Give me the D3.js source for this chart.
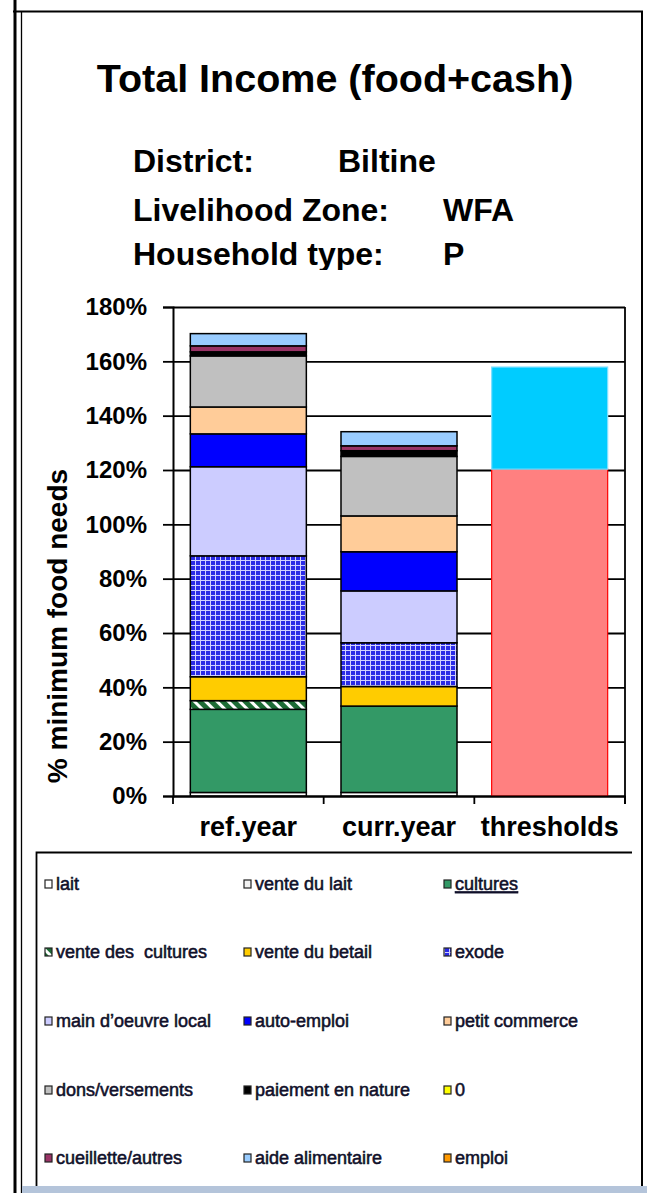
<!DOCTYPE html>
<html>
<head>
<meta charset="utf-8">
<script src="https://cdn.jsdelivr.net/npm/d3@7"></script>
<style>
body { margin: 0; background: #fff; }
svg { display: block; }
text { font-family: "Liberation Sans", Arial, sans-serif; }
</style>
</head>
<body>
<svg width="647" height="1193"></svg>
<script>
// categories on the x axis
var categories = ["ref.year", "curr.year", "thresholds"];

// income sources, in stacking order (bottom first) = legend order
var sources = ["lait", "vente du lait", "cultures", "vente des  cultures", "vente du betail",
    "exode", "main d\u2019oeuvre local", "auto-emploi", "petit commerce", "dons/versements",
    "paiement en nature", "0", "cueillette/autres", "aide alimentaire", "emploi"];

// % of minimum food needs
var refYear  = [1.3, 0, 30.6, 3.2, 8.8, 44.5, 32.8, 12.1, 9.9, 18.8, 1.5, 0, 2.2, 4.5, 0];
var currYear = [1.3, 0, 31.8, 0, 7.2, 16.1, 19.1, 14.4, 13.2, 21.9, 2.1, 0, 1.8, 5.2, 0];

// thresholds bar
var thresholdNames = ["survival", "livelihoods protection"];
var thresholdValues = [120.3, 37.6];

var yTicks = [0, 20, 40, 60, 80, 100, 120, 140, 160, 180];

var header = [["District:", "Biltine"], ["Livelihood Zone:", "WFA"], ["Household type:", "P"]];

var fills = ["#ffffff", "#f2f2f2", "#339966", "url(#stripes)", "#ffcc00",
    "url(#grid)", "#ccccff", "#0000ff", "#ffcc99", "#c0c0c0",
    "#000000", "#ffff00", "#993366", "#99ccff", "#ff9900"];
var thresholdFills = ["#ff8080", "#00ccff"];
var thresholdStrokes = ["#ff0000", "#7fe0ff"];

var svg = d3.select("svg");

var defs = svg.append("defs");
var stripes = defs.append("pattern").attr("id", "stripes")
    .attr("patternUnits", "userSpaceOnUse").attr("width", 8).attr("height", 8)
    .attr("patternTransform", "rotate(-45)");
stripes.append("rect").attr("width", 8).attr("height", 8).attr("fill", "#1d6b35");
stripes.append("rect").attr("width", 3).attr("height", 8).attr("fill", "#ffffff");

var grid = defs.append("pattern").attr("id", "grid")
    .attr("patternUnits", "userSpaceOnUse").attr("width", 5).attr("height", 5);
grid.append("rect").attr("width", 5).attr("height", 5).attr("fill", "#2a2ae6");
grid.append("rect").attr("width", 5).attr("height", 1).attr("fill", "#d0d0ff");
grid.append("rect").attr("width", 1).attr("height", 5).attr("fill", "#d0d0ff");

// sheet frame
svg.append("line").attr("x1", 15).attr("x2", 15).attr("y1", 0).attr("y2", 1193)
    .attr("stroke", "#000").attr("stroke-width", 3);
svg.append("line").attr("x1", 21.5).attr("x2", 21.5).attr("y1", 11).attr("y2", 1193)
    .attr("stroke", "#000").attr("stroke-width", 1.3);
svg.append("line").attr("x1", 13).attr("x2", 643).attr("y1", 11.5).attr("y2", 11.5)
    .attr("stroke", "#000").attr("stroke-width", 2);
svg.append("line").attr("x1", 642).attr("x2", 642).attr("y1", 11).attr("y2", 1193)
    .attr("stroke", "#000").attr("stroke-width", 2);

// title + header lines
svg.append("text")
    .attr("x", 335).attr("y", 92)
    .attr("text-anchor", "middle")
    .style("font-size", "39.5px").style("font-weight", "bold")
    .text("Total Income (food+cash)");

var hy = [172, 221, 265], hx2 = [338, 443, 443];
var hg = svg.append("g");
header.forEach(function (h, i) {
    hg.append("text").attr("x", 133).attr("y", hy[i])
        .style("font-size", "32px").style("font-weight", "bold").text(h[0]);
    hg.append("text").attr("x", hx2[i]).attr("y", hy[i])
        .style("font-size", "32px").style("font-weight", "bold").text(h[1]);
});

// plot
var x = d3.scaleBand().domain(categories).range([173, 625]).paddingInner(0.23).paddingOuter(0.115);
var y = d3.scaleLinear().domain([0, 180]).range([796, 307]);

// white plot background hides the bottom of the header text
svg.append("rect").attr("x", 173).attr("y", 270).attr("width", 452).attr("height", 37).attr("fill", "#fff");

svg.append("g")
    .attr("transform", "translate(173,0)")
    .call(d3.axisLeft(y).tickValues(yTicks).tickSize(-452).tickFormat(""))
    .call(function (g) { g.select(".domain").remove(); })
    .selectAll("line").attr("stroke", "#000").attr("stroke-width", 1.8);

var rows = [refYear, currYear].map(function (vals, i) {
    var r = { cat: categories[i] };
    sources.forEach(function (s, j) { r[s] = vals[j]; });
    return r;
});
var stacked = d3.stack().keys(sources)(rows);

svg.append("g").selectAll("g")
    .data(stacked).enter().append("g")
    .attr("fill", function (d, i) { return fills[i]; })
    .selectAll("rect")
    .data(function (d) { return d.filter(function (p) { return p[1] - p[0] > 0; }); })
    .enter().append("rect")
    .attr("x", function (d) { return x(d.data.cat); })
    .attr("width", x.bandwidth())
    .attr("y", function (d) { return y(d[1]); })
    .attr("height", function (d) { return y(d[0]) - y(d[1]); })
    .attr("stroke", "#000").attr("stroke-width", 1.5);

var tRow = { cat: categories[2] };
thresholdNames.forEach(function (n, j) { tRow[n] = thresholdValues[j]; });
var tStack = d3.stack().keys(thresholdNames)([tRow]);
svg.append("g").selectAll("rect")
    .data(tStack).enter().append("rect")
    .attr("x", function (d) { return x(d[0].data.cat); })
    .attr("width", x.bandwidth())
    .attr("y", function (d) { return y(d[0][1]); })
    .attr("height", function (d) { return y(d[0][0]) - y(d[0][1]); })
    .attr("fill", function (d, i) { return thresholdFills[i]; })
    .attr("stroke", function (d, i) { return thresholdStrokes[i]; })
    .attr("stroke-width", 1.2);

// axes
var yAxis = svg.append("g")
    .attr("transform", "translate(173,0)")
    .call(d3.axisLeft(y).tickValues(yTicks).tickSize(10).tickPadding(16)
        .tickFormat(function (d) { return d + "%"; }));
yAxis.select(".domain").attr("stroke", "#000").attr("stroke-width", 2);
yAxis.selectAll("line").attr("stroke", "#000").attr("stroke-width", 1.8);
yAxis.selectAll("text").attr("fill", "#000")
    .style("font-size", "24px").style("font-weight", "bold").style("font-family", "'Liberation Sans', Arial, sans-serif");

var xAxis = svg.append("g")
    .attr("transform", "translate(0,796)")
    .call(d3.axisBottom(x).tickSize(0).tickPadding(21));
xAxis.select(".domain").attr("stroke", "#000").attr("stroke-width", 2);
xAxis.selectAll("text").attr("fill", "#000")
    .style("font-size", "27px").style("font-weight", "bold").style("font-family", "'Liberation Sans', Arial, sans-serif");

// tick marks between categories
var bounds = categories.map(function (c) { return x(c) - x.step() * x.paddingInner() / 2; });
bounds.push(625);
svg.append("g").selectAll("line").data(bounds).enter().append("line")
    .attr("x1", function (d) { return d; }).attr("x2", function (d) { return d; })
    .attr("y1", 796).attr("y2", 804)
    .attr("stroke", "#000").attr("stroke-width", 1.8);

// right edge of the plot
svg.append("line").attr("x1", 625).attr("x2", 625).attr("y1", y(180)).attr("y2", 804)
    .attr("stroke", "#000").attr("stroke-width", 1.8);

svg.append("text")
    .attr("transform", "translate(67,626)rotate(-90)")
    .attr("text-anchor", "middle")
    .style("font-size", "28px").style("font-weight", "bold")
    .text("% minimum food needs");

// legend
svg.append("path").attr("d", "M36.5,1186V852.5H632")
    .attr("fill", "none").attr("stroke", "#000").attr("stroke-width", 1.8);

var colX = [45, 244, 444], rowY = [884, 952, 1021, 1090, 1158];
var leg = svg.append("g").selectAll("g")
    .data(sources).enter().append("g")
    .attr("transform", function (d, i) {
        return "translate(" + colX[i % 3] + "," + rowY[Math.floor(i / 3)] + ")";
    });
leg.append("rect")
    .attr("x", 0).attr("y", -4).attr("width", 7).attr("height", 8)
    .attr("fill", function (d, i) { return fills[i]; })
    .attr("stroke", "#222").attr("stroke-width", 1.2);
leg.append("text")
    .attr("x", 11).attr("dy", "0.35em")
    .style("font-size", "18px")
    .style("white-space", "pre")
    .style("text-decoration", function (d) { return d === "cultures" ? "underline" : null; })
    .attr("fill", "#10102a")
    .attr("stroke", "#10102a").attr("stroke-width", 0.55)
    .text(function (d) { return d; });

// sheet bottom bar
svg.append("rect").attr("x", 22).attr("y", 1186).attr("width", 625).attr("height", 7).attr("fill", "#b4c4da");
</script>
</body>
</html>
